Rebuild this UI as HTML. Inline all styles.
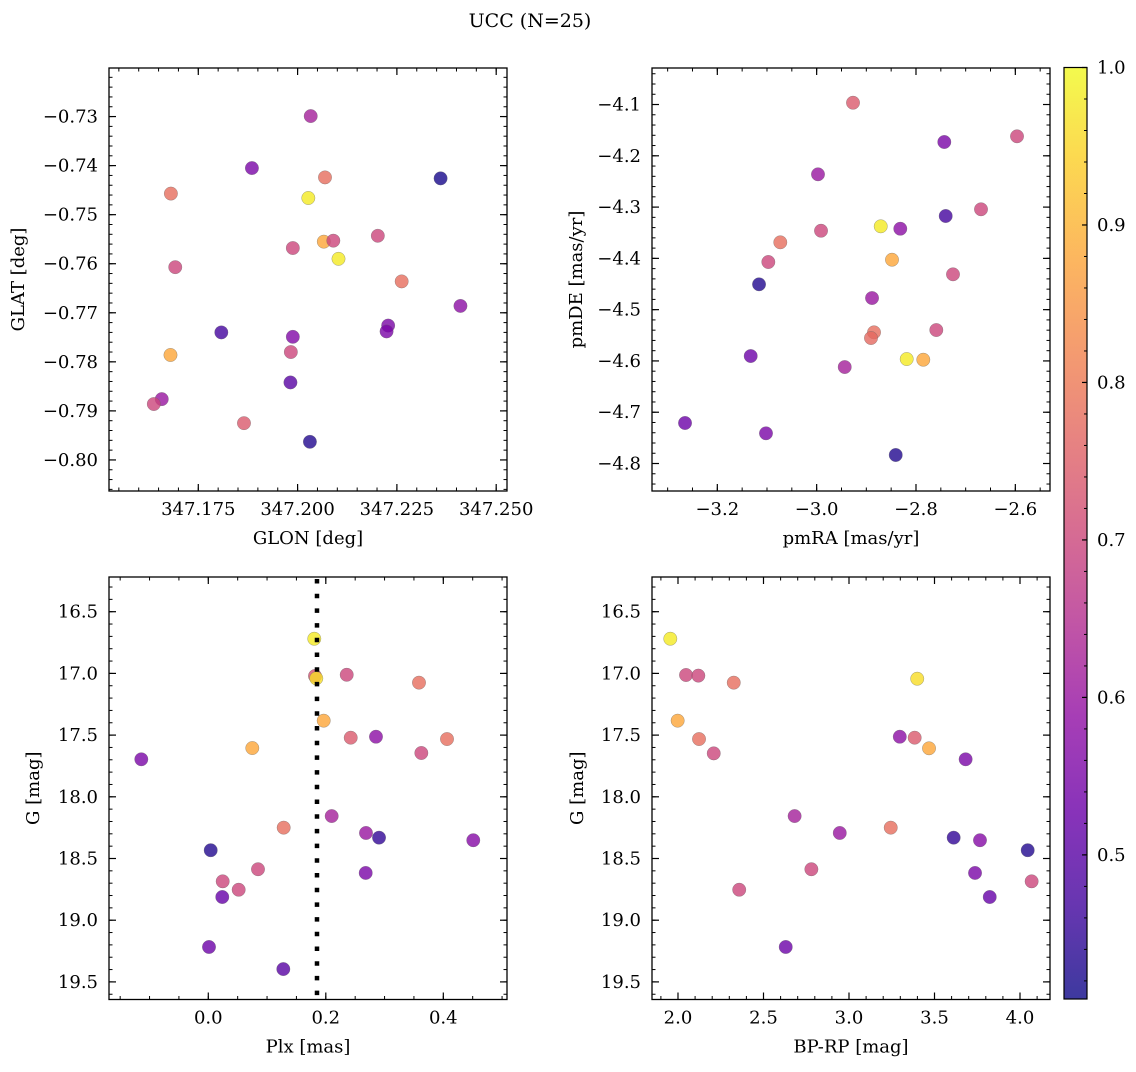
<!DOCTYPE html>
<html><head><meta charset="utf-8"><style>
html,body{margin:0;padding:0;background:#fff;}
svg text{font-family:"DejaVu Serif","Liberation Serif",serif;fill:#000;}
</style></head><body>
<svg id="fig" width="1136" height="1067" viewBox="0 0 1136 1067" xmlns="http://www.w3.org/2000/svg">
<text x="530" y="27" font-size="19" text-anchor="middle">UCC (N=25)</text>
</svg>
<script>
// ---- Panel 1: GLON vs GLAT ----
const p1X=[347.2033,347.1885,347.2069,347.2360,347.1681,347.2027,347.2066,347.2090,347.2202,347.1988,347.2103,347.1692,347.2262,347.2410,347.2228,347.2224,347.1808,347.1988,347.1680,347.1983,347.1982,347.1658,347.1638,347.1865,347.2031];
const p1Y=[-0.7299,-0.7405,-0.7424,-0.7426,-0.7457,-0.7466,-0.7555,-0.7553,-0.7543,-0.7568,-0.7590,-0.7607,-0.7636,-0.7686,-0.7726,-0.7738,-0.7740,-0.7749,-0.7786,-0.7780,-0.7842,-0.7876,-0.7886,-0.7925,-0.7963];
const p1C=[0.62,0.55,0.78,0.42,0.78,0.98,0.88,0.70,0.70,0.70,0.98,0.70,0.78,0.58,0.55,0.55,0.47,0.56,0.88,0.70,0.50,0.60,0.70,0.74,0.43];
const p1XTicks=[347.175,347.200,347.225,347.250];
const p1XLabels=["347.175","347.200","347.225","347.250"];
const p1YTicks=[-0.73,-0.74,-0.75,-0.76,-0.77,-0.78,-0.79,-0.80];
const p1YLabels=["\u22120.73","\u22120.74","\u22120.75","\u22120.76","\u22120.77","\u22120.78","\u22120.79","\u22120.80"];
// ---- Panel 2: pmRA vs pmDE ----
const p2X=[-2.9268,-2.7430,-2.5966,-2.9973,-2.6691,-2.7402,-2.8710,-2.8316,-2.9912,-3.0732,-2.8483,-3.0973,-2.7255,-3.1160,-2.8885,-2.7591,-2.8845,-2.8906,-2.8187,-2.7853,-3.1328,-2.9435,-3.2650,-3.1020,-2.8408];
const p2Y=[-4.0965,-4.1731,-4.1620,-4.2361,-4.3043,-4.3174,-4.3375,-4.3422,-4.3461,-4.3687,-4.4026,-4.4071,-4.4311,-4.4506,-4.4773,-4.5397,-4.5442,-4.5553,-4.5963,-4.5976,-4.5904,-4.6119,-4.7210,-4.7411,-4.7834];
const p2C=[0.74,0.55,0.70,0.60,0.70,0.47,0.98,0.58,0.70,0.78,0.88,0.70,0.70,0.43,0.60,0.70,0.78,0.77,0.98,0.88,0.53,0.62,0.53,0.55,0.43];
const p2XTicks=[-3.2,-3.0,-2.8,-2.6];
const p2XLabels=["\u22123.2","\u22123.0","\u22122.8","\u22122.6"];
const p2YTicks=[-4.1,-4.2,-4.3,-4.4,-4.5,-4.6,-4.7,-4.8];
const p2YLabels=["\u22124.1","\u22124.2","\u22124.3","\u22124.4","\u22124.5","\u22124.6","\u22124.7","\u22124.8"];
// ---- Panel 3: Plx vs G ----
const p3X=[0.1804,0.1816,0.1838,0.2356,0.3586,0.1964,0.2424,0.2854,0.4063,0.3626,0.0749,-0.1140,0.2100,0.1283,0.2684,0.2906,0.4510,0.0041,0.2679,0.0846,0.0245,0.0517,0.0238,0.0012,0.1277];
const p3Y=[16.719,17.021,17.040,17.011,17.075,17.383,17.521,17.513,17.532,17.645,17.605,17.696,18.156,18.250,18.293,18.331,18.352,18.433,18.617,18.587,18.685,18.753,18.812,19.217,19.396];
const p3C=[0.98,0.72,0.96,0.70,0.78,0.88,0.74,0.58,0.78,0.70,0.88,0.55,0.62,0.78,0.60,0.45,0.57,0.43,0.55,0.70,0.70,0.70,0.52,0.53,0.50];
const p3XTicks=[0.0,0.2,0.4];
const p3XLabels=["0.0","0.2","0.4"];
const p3YTicks=[16.5,17.0,17.5,18.0,18.5,19.0,19.5];
const p3YLabels=["16.5","17.0","17.5","18.0","18.5","19.0","19.5"];
const plxLine=[0.185];
// ---- Panel 4: BP-RP vs G ----
const p4X=[1.955,2.047,2.119,2.326,3.399,1.998,2.123,2.209,3.297,3.384,3.468,3.682,2.682,2.946,3.244,3.612,3.766,4.045,2.780,3.737,4.068,2.358,3.823,2.630];
const p4Y=[16.719,17.013,17.018,17.075,17.043,17.383,17.532,17.648,17.513,17.521,17.607,17.696,18.156,18.293,18.250,18.331,18.352,18.433,18.587,18.617,18.685,18.753,18.812,19.217];
const p4C=[0.98,0.70,0.70,0.78,0.96,0.88,0.78,0.70,0.58,0.74,0.88,0.55,0.62,0.60,0.78,0.45,0.57,0.43,0.70,0.55,0.70,0.70,0.52,0.53];
const p4XTicks=[2.0,2.5,3.0,3.5,4.0];
const p4XLabels=["2.0","2.5","3.0","3.5","4.0"];
const p4YTicks=p3YTicks;
const p4YLabels=p3YLabels;
// ---- Colorbar ----
const cbTicks=[0.5,0.6,0.7,0.8,0.9,1.0];
const cbLabels=["0.5","0.6","0.7","0.8","0.9","1.0"];
const cbMin=0.4085, cbMax=1.0;

const NS="http://www.w3.org/2000/svg";
const svg=document.getElementById('fig');
const FS=18;
function mk(tag,attrs,parent){const e=document.createElementNS(NS,tag);for(const k in attrs)e.setAttribute(k,attrs[k]);(parent||svg).appendChild(e);return e;}

const PL=[[0,13,8,135],[0.1,65,4,157],[0.2,106,0,168],[0.3,143,13,164],[0.4,177,42,144],[0.5,204,71,120],[0.6,225,100,98],[0.7,242,132,75],[0.8,252,166,54],[0.9,252,206,37],[1.0,240,249,33]];
function plasma(t){t=Math.max(0,Math.min(1,t));for(let i=0;i<PL.length-1;i++){const a=PL[i],b=PL[i+1];if(t<=b[0]){const f=(t-a[0])/(b[0]-a[0]);return `rgb(${Math.round(a[1]+f*(b[1]-a[1]))},${Math.round(a[2]+f*(b[2]-a[2]))},${Math.round(a[3]+f*(b[3]-a[3]))})`;}}return 'rgb(240,249,33)';}
function cmap(v){return plasma((v-cbMin)/(cbMax-cbMin));}

function panel(cfg){
  const g=mk('g',{});
  
  
  const sx=v=>cfg.x0+(v-cfg.xa)/(cfg.xb-cfg.xa)*(cfg.x1-cfg.x0);
  const sy=v=>cfg.y0+(v-cfg.yTop)/(cfg.yBot-cfg.yTop)*(cfg.y1-cfg.y0);
  const xlo=Math.min(cfg.xa,cfg.xb), xhi=Math.max(cfg.xa,cfg.xb);
  for(let k=Math.ceil(xlo/cfg.xm-1e-6);k*cfg.xm<=xhi+1e-9;k++){const px=sx(k*cfg.xm);
    mk('line',{x1:px,x2:px,y1:cfg.y1,y2:cfg.y1-3.5,stroke:'#000','stroke-width':1},g);
    mk('line',{x1:px,x2:px,y1:cfg.y0,y2:cfg.y0+3.5,stroke:'#000','stroke-width':1},g);}
  const ylo=Math.min(cfg.yTop,cfg.yBot), yhi=Math.max(cfg.yTop,cfg.yBot);
  for(let k=Math.ceil(ylo/cfg.ym-1e-6);k*cfg.ym<=yhi+1e-9;k++){const py=sy(k*cfg.ym);
    mk('line',{x1:cfg.x0,x2:cfg.x0+3.5,y1:py,y2:py,stroke:'#000','stroke-width':1},g);
    mk('line',{x1:cfg.x1,x2:cfg.x1-3.5,y1:py,y2:py,stroke:'#000','stroke-width':1},g);}
  cfg.xt.forEach((v,i)=>{const px=sx(v);
    mk('line',{x1:px,x2:px,y1:cfg.y1,y2:cfg.y1-7,stroke:'#000','stroke-width':1.2},g);
    mk('line',{x1:px,x2:px,y1:cfg.y0,y2:cfg.y0+7,stroke:'#000','stroke-width':1.2},g);
    const t=mk('text',{x:px,y:cfg.y1+24,'font-size':FS,'text-anchor':'middle'},g);t.textContent=cfg.xl[i];
    
    });
  cfg.yt.forEach((v,i)=>{const py=sy(v);
    mk('line',{x1:cfg.x0,x2:cfg.x0+7,y1:py,y2:py,stroke:'#000','stroke-width':1.2},g);
    mk('line',{x1:cfg.x1,x2:cfg.x1-7,y1:py,y2:py,stroke:'#000','stroke-width':1.2},g);
    const t=mk('text',{x:cfg.x0-11,y:py+6,'font-size':FS,'text-anchor':'end'},g);t.textContent=cfg.yl[i];
    
    });
  cfg.X.forEach((v,i)=>{const c=mk('circle',{cx:sx(v),cy:sy(cfg.Y[i]),r:6.7,fill:cmap(cfg.C[i]),'fill-opacity':0.8,stroke:'#666','stroke-width':0.5,'stroke-opacity':0.6},g);
    
    });
  if(cfg.vline){cfg.vline.forEach(v=>{const l=mk('line',{x1:sx(v),x2:sx(v),y1:cfg.y0+2,y2:cfg.y1,stroke:'#000','stroke-width':4.5,'stroke-dasharray':'4.5 10.2'},g);
    
    });}
  const fr=mk('rect',{x:cfg.x0,y:cfg.y0,width:cfg.x1-cfg.x0,height:cfg.y1-cfg.y0,fill:'none',stroke:'#000','stroke-width':1.3},g);
  
  
  const xlab=mk('text',{x:(cfg.x0+cfg.x1)/2,y:cfg.y1+53,'font-size':FS,'text-anchor':'middle'},g);xlab.textContent=cfg.xlabel;
  
  
  const yx=cfg.ylx, yy=(cfg.y0+cfg.y1)/2;
  const ylab=mk('text',{x:yx,y:yy,'font-size':FS,'text-anchor':'middle',transform:`rotate(-90 ${yx} ${yy})`},g);ylab.textContent=cfg.ylabel;
  
  
}

panel({name:'glon-glat-panel',x0:109,y0:68,x1:507,y1:491,xa:347.15252,xb:347.25272,yTop:-0.7201,yBot:-0.80633,xm:0.005,ym:0.002,
  xt:p1XTicks,xl:p1XLabels,yt:p1YTicks,yl:p1YLabels,X:p1X,Y:p1Y,C:p1C,xlabel:'GLON [deg]',ylabel:'GLAT [deg]',ylx:24});
panel({name:'pm-panel',x0:652,y0:68,x1:1050,y1:491,xa:-3.3315,xb:-2.5302,yTop:-4.0288,yBot:-4.8536,xm:0.05,ym:0.02,
  xt:p2XTicks,xl:p2XLabels,yt:p2YTicks,yl:p2YLabels,X:p2X,Y:p2Y,C:p2C,xlabel:'pmRA [mas/yr]',ylabel:'pmDE [mas/yr]',ylx:582});
panel({name:'plx-g-panel',x0:109,y0:577,x1:507,y1:999.5,xa:-0.1690,xb:0.5084,yTop:16.2188,yBot:19.6426,xm:0.05,ym:0.1,
  xt:p3XTicks,xl:p3XLabels,yt:p3YTicks,yl:p3YLabels,X:p3X,Y:p3Y,C:p3C,vline:plxLine,xlabel:'Plx [mas]',ylabel:'G [mag]',ylx:39});
panel({name:'cmd-panel',x0:652,y0:577,x1:1050,y1:999.5,xa:1.848,xb:4.1754,yTop:16.2188,yBot:19.6426,xm:0.1,ym:0.1,
  xt:p4XTicks,xl:p4XLabels,yt:p4YTicks,yl:p4YLabels,X:p4X,Y:p4Y,C:p4C,xlabel:'BP-RP [mag]',ylabel:'G [mag]',ylx:583});

(function(){
  const x0=1064,x1=1087,y0=67.5,y1=999;
  const defs=mk('defs',{});
  const lg=mk('linearGradient',{id:'cbg',x1:0,y1:1,x2:0,y2:0},defs);
  for(let i=0;i<=20;i++){mk('stop',{offset:i/20,'stop-color':plasma(i/20),'stop-opacity':0.8},lg);}
  const cb=mk('g',{});
  
  
  mk('rect',{x:x0,y:y0,width:x1-x0,height:y1-y0,fill:'url(#cbg)'},cb);
  const sy=v=>y1-(v-cbMin)/(cbMax-cbMin)*(y1-y0);
  for(let k=21;k<=50;k++){const v=k*0.02;if(v<cbMin)continue;const py=sy(v);
    mk('line',{x1:x1,x2:x1-3,y1:py,y2:py,stroke:'#000','stroke-width':1},cb);}
  cbTicks.forEach((v,i)=>{const py=sy(v);
    mk('line',{x1:x1,x2:x1-5,y1:py,y2:py,stroke:'#000','stroke-width':1.2},cb);
    const t=mk('text',{x:x1+10,y:py+6,'font-size':FS},cb);t.textContent=cbLabels[i];
    
    });
  mk('rect',{x:x0,y:y0,width:x1-x0,height:y1-y0,fill:'none',stroke:'#000','stroke-width':1.2},cb);
})();
</script>
</body></html>
